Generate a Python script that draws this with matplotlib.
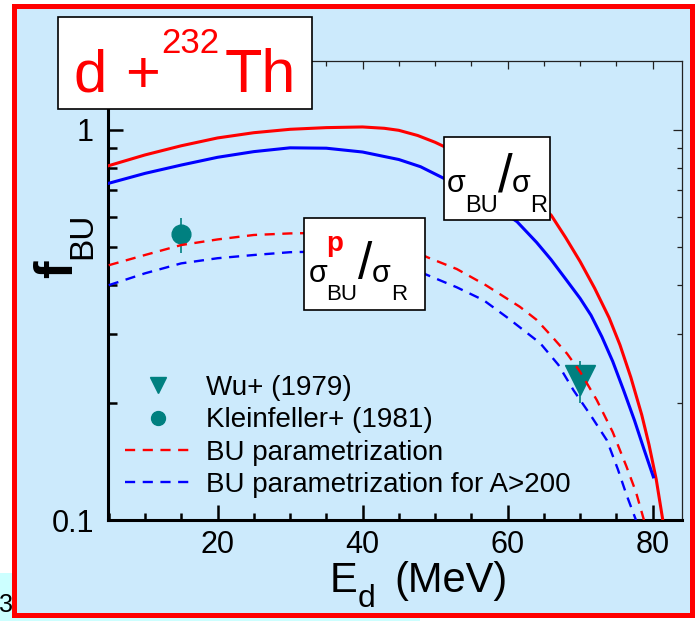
import matplotlib
matplotlib.use("Agg")
import matplotlib.pyplot as plt
from matplotlib.patches import Rectangle
from matplotlib.lines import Line2D
from matplotlib.ticker import FixedLocator, FixedFormatter, NullFormatter, MultipleLocator

plt.rcParams['font.family'] = ['Liberation Sans', 'DejaVu Sans']

# ---- breakup fraction curves (E_d in MeV, f_BU) ----
energy_bu = [5, 10, 15, 20, 25, 30, 35, 40, 43, 45, 47.6, 50, 53, 56, 59, 62, 64,
             66, 68, 70, 72, 74, 75.5, 77, 78.5, 79.5, 80.5, 81.4]
ratio_bu = [0.81, 0.863, 0.911, 0.954, 0.984, 1.004, 1.014, 1.018, 1.01, 0.998,
            0.968, 0.93, 0.875, 0.815, 0.755, 0.69, 0.65, 0.605, 0.53, 0.46,
            0.393, 0.33, 0.281, 0.232, 0.186, 0.156, 0.127, 0.1]

energy_bu_a200 = [5, 10, 15, 20, 25, 30, 35, 40, 45, 48, 51, 54, 57, 59.3, 61.3,
                  64, 66, 68, 70, 71.5, 73, 74.5, 76, 77.5, 78.8, 80.1]
ratio_bu_a200 = [0.73, 0.774, 0.813, 0.851, 0.88, 0.9, 0.898, 0.878, 0.84, 0.805,
                 0.755, 0.705, 0.655, 0.617, 0.582, 0.515, 0.465, 0.415, 0.37,
                 0.335, 0.295, 0.255, 0.215, 0.18, 0.152, 0.129]

energy_bup = [5, 10, 15, 20, 25, 30, 35, 40, 45, 48.9, 53, 57, 61.7, 64, 66,
              68.2, 70, 72.3, 74.5, 76.4, 77.7, 78.8]
ratio_bup = [0.45, 0.478, 0.507, 0.524, 0.538, 0.543, 0.545, 0.535, 0.51, 0.472,
             0.44, 0.40, 0.352, 0.326, 0.297, 0.267, 0.24, 0.203, 0.168, 0.137,
             0.118, 0.1]

energy_bup_a200 = [5, 10, 15, 20, 25, 30, 35, 40, 45, 48.9, 53, 56.7, 60, 64.5,
                   67, 69.1, 71.5, 73.7, 75.2, 76.4, 77.7]
ratio_bup_a200 = [0.40, 0.429, 0.455, 0.469, 0.478, 0.486, 0.488, 0.478, 0.455,
                  0.425, 0.395, 0.366, 0.33, 0.284, 0.25, 0.215, 0.185, 0.16,
                  0.135, 0.116, 0.1]

# ---- measurements ----
wu_energy = [70.0]
wu_fbu = [0.228]
wu_err = [0.028]
kf_energy = [15.0]
kf_fbu = [0.54]
kf_err = [0.055]

legend_labels = ['Wu+ (1979)', 'Kleinfeller+ (1981)',
                 'BU parametrization', 'BU parametrization for A>200']
x_ticks = [20, 40, 60, 80]
y_ticks = [0.1, 1]
y_tick_labels = ['0.1', '1']

RED = '#ff0000'
BLUE = '#0000ff'
TEAL = '#008080'
BG = '#cceafc'

W, H = 697, 621
fig = plt.figure(figsize=(W / 100, H / 100), dpi=100)
fig.patch.set_facecolor('white')


def fx(x):
    return x / W


def fy(y):
    return 1 - y / H


# slide background strip and framed panel
fig.add_artist(Rectangle((fx(0), fy(621)), 420 / W, 48 / H, transform=fig.transFigure,
                         facecolor='#ccffff', edgecolor='none', zorder=-2))
fig.add_artist(Rectangle((fx(14.5), fy(614.5)), (691.5 - 14.5) / W, (614.5 - 5.5) / H,
                         transform=fig.transFigure, facecolor=BG, edgecolor=RED,
                         linewidth=3.6, zorder=-1))
fig.text(fx(-1), fy(611.5), '3', fontsize=18, color='black', ha='left', va='baseline')

ax_left, ax_right, ax_top, ax_bottom = 108, 682, 61.3, 520
ax = fig.add_axes([fx(ax_left), fy(ax_bottom), (ax_right - ax_left) / W,
                   (ax_bottom - ax_top) / H])
ax.patch.set_visible(False)
ax.set_yscale('log')
ax.set_xlim(4.9, 84.05)
ax.set_ylim(0.1, 1.5)

ax.plot(energy_bu, ratio_bu, color=RED, lw=2.2, zorder=3)
ax.plot(energy_bu_a200, ratio_bu_a200, color=BLUE, lw=2.2, zorder=3)
l_bup, = ax.plot(energy_bup, ratio_bup, color=RED, lw=1.7, dashes=(4.3, 3.2), zorder=3)
l_bup200, = ax.plot(energy_bup_a200, ratio_bup_a200, color=BLUE, lw=1.7,
                    dashes=(4.3, 3.2), zorder=3)

ax.errorbar(wu_energy, wu_fbu, yerr=wu_err, fmt='v', color=TEAL, ms=21, elinewidth=1.2,
            capsize=0, zorder=2)
ax.errorbar(kf_energy, kf_fbu, yerr=kf_err, fmt='o', color=TEAL, ms=13.5, elinewidth=1.2,
            capsize=0, zorder=2)

# axes styling
for side in ('top', 'right'):
    ax.spines[side].set_visible(False)
for side in ('left', 'bottom'):
    ax.spines[side].set_linewidth(2.2)
    ax.spines[side].set_color('black')

ax.xaxis.set_major_locator(FixedLocator(x_ticks))
ax.xaxis.set_minor_locator(MultipleLocator(5))
ax.yaxis.set_major_locator(FixedLocator(y_ticks))
ax.yaxis.set_major_formatter(FixedFormatter(y_tick_labels))
ax.yaxis.set_minor_locator(FixedLocator([0.2, 0.3, 0.4, 0.5, 0.6, 0.7, 0.8, 0.9]))
ax.yaxis.set_minor_formatter(NullFormatter())
ax.tick_params(which='both', direction='in', width=1.8, labelsize=22,
               top=False, right=False)
ax.xaxis.set_tick_params(which='major', length=11, pad=7)
ax.xaxis.set_tick_params(which='minor', length=5.3)
ax.yaxis.set_tick_params(which='major', length=11, pad=10)
ax.yaxis.set_tick_params(which='minor', length=6.5)

# thin top / right frame with short ticks
sec_x = ax.secondary_xaxis('top')
sec_x.xaxis.set_major_locator(FixedLocator(x_ticks))
sec_x.xaxis.set_minor_locator(MultipleLocator(5))
sec_x.xaxis.set_major_formatter(NullFormatter())
sec_x.tick_params(which='both', direction='in', width=0.9, color='#222222')
sec_x.xaxis.set_tick_params(which='major', length=6)
sec_x.xaxis.set_tick_params(which='minor', length=3.6)
sec_x.spines['top'].set_linewidth(0.9)
sec_x.spines['top'].set_color('#222222')

sec_y = ax.secondary_yaxis('right')
sec_y.yaxis.set_major_locator(FixedLocator(y_ticks))
sec_y.yaxis.set_minor_locator(FixedLocator([0.2, 0.3, 0.4, 0.5, 0.6, 0.7, 0.8, 0.9]))
sec_y.yaxis.set_major_formatter(NullFormatter())
sec_y.yaxis.set_minor_formatter(NullFormatter())
sec_y.tick_params(which='both', direction='in', width=0.9, color='#222222')
sec_y.yaxis.set_tick_params(which='major', length=6.5)
sec_y.yaxis.set_tick_params(which='minor', length=3.6)
sec_y.spines['right'].set_linewidth(0.9)
sec_y.spines['right'].set_color('#222222')

# legend
h_wu = Line2D([], [], marker='v', ls='none', color=TEAL, ms=11.5)
h_kf = Line2D([], [], marker='o', ls='none', color=TEAL, ms=10)
ax.legend([h_wu, h_kf, l_bup, l_bup200], legend_labels,
          loc='upper left', bbox_to_anchor=(fx(125), fy(375)),
          bbox_transform=fig.transFigure, frameon=False, fontsize=20,
          borderpad=0, borderaxespad=0, handlelength=2.4, handletextpad=0.5,
          labelspacing=0.23, numpoints=1)

# axis titles
fig.text(fx(329.6), fy(591.7), 'E', fontsize=30, ha='left', va='baseline')
fig.text(fx(358), fy(606.7), 'd', fontsize=23, ha='left', va='baseline')
fig.text(fx(394), fy(591.7), '(MeV)', fontsize=30, ha='left', va='baseline')

fig.text(fx(71.7), fy(277.7), 'f', fontsize=38, fontweight='bold', rotation=90,
         rotation_mode='anchor', ha='left', va='baseline')
fig.text(fx(91.7), fy(259.3), 'BU', fontsize=24, rotation=90,
         rotation_mode='anchor', ha='left', va='baseline')


def label_box(x0, y0, x1, y1):
    fig.add_artist(Rectangle((fx(x0), fy(y1)), (x1 - x0) / W, (y1 - y0) / H,
                             transform=fig.transFigure, facecolor='white',
                             edgecolor='black', linewidth=1.2, zorder=5))


def put(x, y, s, size, **kw):
    fig.text(fx(x), fy(y), s, fontsize=size, ha='left', va='baseline', zorder=6, **kw)


# reaction label
label_box(58, 17, 312, 109)
put(73, 91.7, 'd', 43, color=RED)
put(125.3, 91.7, '+', 43, color=RED)
put(161, 53.3, '232', 25, color=RED)
put(225, 91.7, 'Th', 44, color=RED)

# total breakup ratio label
label_box(444, 137, 550, 220)
put(447, 191.7, 'σ', 22)
put(464.8, 211.7, 'BU', 17)
put(498, 191, '/', 38)
put(512, 191.7, 'σ', 22)
put(529.8, 211.7, 'R', 17)

# proton breakup ratio label
label_box(304, 218, 425, 310)
put(309, 281.7, 'σ', 22)
put(326.5, 251.2, 'p', 20, color=RED, fontweight='bold')
put(326.5, 300, 'BU', 16)
put(358, 279.3, '/', 37)
put(372, 281.7, 'σ', 22)
put(391.5, 300, 'R', 16)

fig.savefig('out.png', dpi=100, facecolor=fig.get_facecolor())
